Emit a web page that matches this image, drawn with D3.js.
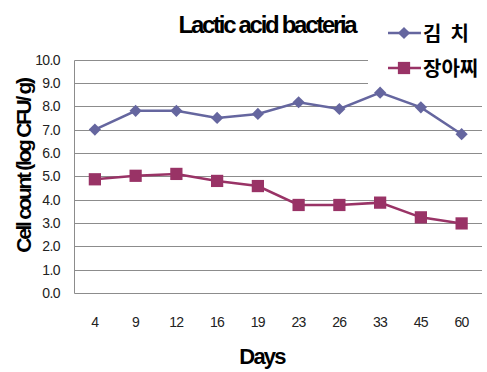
<!DOCTYPE html>
<html>
<head>
<meta charset="utf-8">
<script src="https://cdn.jsdelivr.net/npm/d3@7"></script>
<style>
  body { margin: 0; background: #fff; }
  svg { display: block; font-family: "Liberation Sans", Arial, sans-serif; }
</style>
</head>
<body>
<div id="chart"></div>
<script>
  // category labels on the x axis (days)
  const days = ["4", "9", "12", "16", "19", "23", "26", "33", "45", "60"];

  // series values (log CFU/g)
  const kimchi = [7.0, 7.8, 7.8, 7.5, 7.67, 8.17, 7.88, 8.58, 7.95, 6.8];
  const jangajji = [4.87, 5.02, 5.1, 4.8, 4.58, 3.77, 3.77, 3.87, 3.24, 2.98];

  const seriesNames = ["김  치", "장아찌"];
  const yTicks = [0, 1, 2, 3, 4, 5, 6, 7, 8, 9, 10];

  const W = 487, H = 372;
  const margin = {left: 74.5, right: 5, top: 59.5, bottom: 79};

  const svg = d3.select("#chart").append("svg")
    .attr("width", W).attr("height", H);

  const x = d3.scaleBand()
    .domain(days)
    .range([margin.left, W - margin.right]);

  const y = d3.scaleLinear()
    .domain([0, 10])
    .range([H - margin.bottom, margin.top]);

  // gridlines
  svg.append("g")
    .selectAll("line")
    .data(yTicks.slice(1))
    .enter().append("line")
      .attr("x1", margin.left).attr("x2", W - margin.right)
      .attr("y1", d => Math.round(y(d)) + 0.5).attr("y2", d => Math.round(y(d)) + 0.5)
      .attr("stroke", "#8c8c8c").attr("stroke-width", 1);

  // axis lines
  const y0 = Math.round(y(0)) + 0.5;
  svg.append("line")
    .attr("x1", margin.left).attr("x2", W - margin.right)
    .attr("y1", y0).attr("y2", y0)
    .attr("stroke", "#8c8c8c");
  svg.append("line")
    .attr("x1", margin.left).attr("x2", margin.left)
    .attr("y1", Math.round(y(10)) + 0.5).attr("y2", y0)
    .attr("stroke", "#8c8c8c");

  // legend box hides the top gridlines behind it
  svg.append("rect")
    .attr("x", 368).attr("y", 14).attr("width", W - 368).attr("height", 78)
    .attr("fill", "#fff");

  // y tick labels
  svg.append("g")
    .selectAll("text")
    .data(yTicks)
    .enter().append("text")
      .attr("x", 60)
      .attr("y", d => y(d) + 5)
      .attr("text-anchor", "end")
      .attr("font-size", 14)
      .attr("letter-spacing", -0.6)
      .attr("fill", "#222")
      .text(d => d.toFixed(1));

  // x tick labels
  svg.append("g")
    .selectAll("text")
    .data(days)
    .enter().append("text")
      .attr("x", d => x(d) + x.bandwidth() / 2)
      .attr("y", 327)
      .attr("text-anchor", "middle")
      .attr("font-size", 14)
      .attr("letter-spacing", -0.6)
      .attr("fill", "#222")
      .text(d => d);

  // titles
  svg.append("text")
    .attr("x", 267).attr("y", 33)
    .attr("text-anchor", "middle")
    .attr("font-size", 24).attr("font-weight", "bold")
    .attr("letter-spacing", -2.3)
    .text("Lactic acid bacteria");

  svg.append("text")
    .attr("x", 262).attr("y", 364)
    .attr("text-anchor", "middle")
    .attr("font-size", 22).attr("font-weight", "bold")
    .attr("letter-spacing", -1.8)
    .text("Days");

  svg.append("text")
    .attr("transform", "translate(31,166) rotate(-90)")
    .attr("text-anchor", "middle")
    .attr("font-size", 21).attr("font-weight", "bold")
    .attr("letter-spacing", -2.3)
    .text("Cell count (log CFU/ g)");

  const line = d3.line()
    .x((d, i) => x(days[i]) + x.bandwidth() / 2)
    .y(d => y(d));

  const colors = ["#65669f", "#993366"];
  const diamond = d3.symbol().type(d3.symbolDiamond2).size(95);
  const square = d3.symbol().type(d3.symbolSquare).size(150);

  // series lines and markers
  [kimchi, jangajji].forEach((vals, s) => {
    svg.append("path")
      .datum(vals)
      .attr("d", line)
      .attr("fill", "none")
      .attr("stroke", colors[s])
      .attr("stroke-width", 2.5);

    svg.append("g")
      .selectAll("path")
      .data(vals)
      .enter().append("path")
        .attr("transform", (d, i) =>
          `translate(${x(days[i]) + x.bandwidth() / 2},${y(d)})`)
        .attr("d", s === 0 ? diamond : square)
        .attr("fill", colors[s]);
  });

  // legend
  const legend = svg.append("g");
  [33, 68].forEach((ly, s) => {
    legend.append("line")
      .attr("x1", 388).attr("x2", 421)
      .attr("y1", ly).attr("y2", ly)
      .attr("stroke", colors[s]).attr("stroke-width", 2.5);
    legend.append("path")
      .attr("transform", `translate(404,${ly})`)
      .attr("d", s === 0 ? diamond : square)
      .attr("fill", colors[s]);
    legend.append("text")
      .attr("x", 423).attr("y", ly + 8)
      .attr("font-family", "'Noto Sans CJK KR', sans-serif")
      .attr("font-size", 20).attr("font-weight", "bold")
      .style("white-space", "pre")
      .text(seriesNames[s]);
  });
</script>
</body>
</html>
